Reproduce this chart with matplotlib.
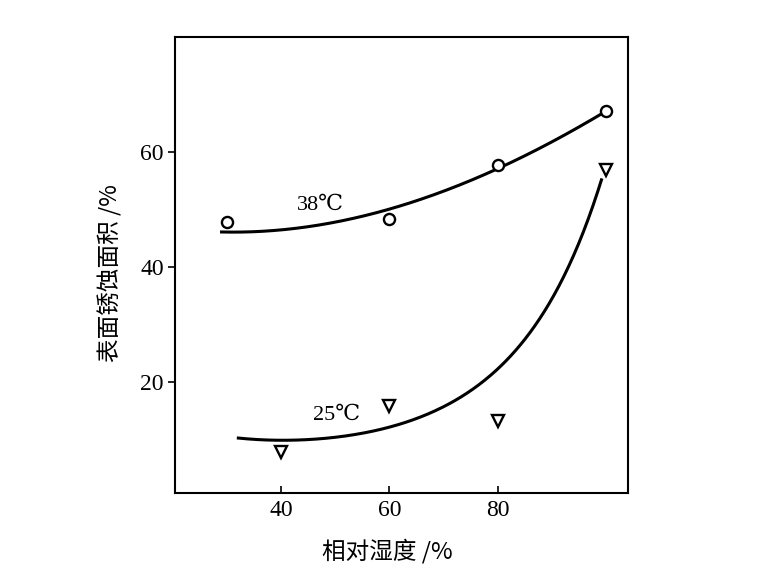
import numpy as np
import matplotlib
matplotlib.use("Agg")
import matplotlib.pyplot as plt

# Measured points
hum_38 = [30, 60, 80, 100]
area_38 = [47.7, 48.3, 57.6, 67.0]
hum_25 = [40, 60, 80, 100]
area_25 = [7.8, 15.7, 13.1, 56.8]

# Fitted curves
curve38_x = [29.0, 33.0, 45.4, 54.6, 58.3, 67.5, 76.8, 86.0, 95.3, 98.9]
curve38_y = [46.0, 46.0, 47.2, 48.7, 49.6, 52.0, 55.5, 60.2, 64.4, 66.3]
curve25_x = [32.1, 44.1, 58.3, 67.5, 76.8, 82.9, 86.0, 90.6, 95.3, 99.2]
curve25_y = [9.7, 10.5, 12.5, 14.5, 18.5, 23.7, 28.4, 36.5, 45.8, 54.2]

xticks = [40, 60, 80]
yticks = [20, 40, 60]
label38 = "38℃"
label25 = "25℃"
xlabel = "相对湿度 /%"
ylabel = "表面锈蚀面积 /%"


def smooth_fit(xs, ys, deg, log=False):
    xs = np.asarray(xs, float)
    ys = np.asarray(ys, float)
    if log:
        coef = np.polyfit(xs, np.log(ys), deg, w=ys)
    else:
        coef = np.polyfit(xs, ys, deg)
    gx = np.linspace(xs.min(), xs.max(), 300)
    gy = np.polyval(coef, gx)
    return gx, (np.exp(gy) if log else gy)


fig = plt.figure(figsize=(7.66, 5.86), dpi=100)
ax = fig.add_axes([0.2285, 0.1592, 0.5913, 0.7782])

sx, sy = smooth_fit(curve38_x, curve38_y, 3)
ax.plot(sx, sy, color="black", lw=2.2)
sx, sy = smooth_fit(curve25_x, curve25_y, 3, log=True)
ax.plot(sx, sy, color="black", lw=2.2)

ax.plot(hum_38, area_38, linestyle="none", marker="o", markersize=8,
        markerfacecolor="white", markeredgecolor="black", markeredgewidth=1.7)
ax.plot(hum_25, area_25, linestyle="none", marker="v", markersize=8,
        markerfacecolor="white", markeredgecolor="black", markeredgewidth=1.7)

serif = ["Liberation Serif", "DejaVu Serif", "Noto Sans CJK SC"]
ax.text(47.2, 50.6, label38, fontsize=16, family=serif, ha="center", va="center")
ax.text(50.2, 14.1, label25, fontsize=16, family=serif, ha="center", va="center")

ax.set_xlim(20.4, 104.1)
ax.set_ylim(0.7, 80)
ax.set_xticks(xticks)
ax.set_yticks(yticks)
ax.tick_params(axis="x", direction="in", length=5, width=1.2, labelsize=17, pad=5)
ax.tick_params(axis="y", direction="out", length=5, width=1.2, labelsize=17, pad=3)
for lab in ax.get_xticklabels() + ax.get_yticklabels():
    lab.set_family(serif)
for s in ax.spines.values():
    s.set_linewidth(1.5)

cjk = ["Noto Sans CJK SC", "DejaVu Sans"]
ax.set_xlabel(xlabel, fontsize=17, family=cjk, weight="medium")
ax.set_ylabel(ylabel, fontsize=17, family=cjk, weight="medium")
ax.xaxis.set_label_coords((387 - 175) / 453, -(551 - 492.7) / 456)
ax.yaxis.set_label_coords(-(175 - 110) / 453, (492.7 - 273) / 456)
ax.xaxis.label.set_va("center")
ax.yaxis.label.set_va("center")

fig.savefig("out.png", dpi=100)
